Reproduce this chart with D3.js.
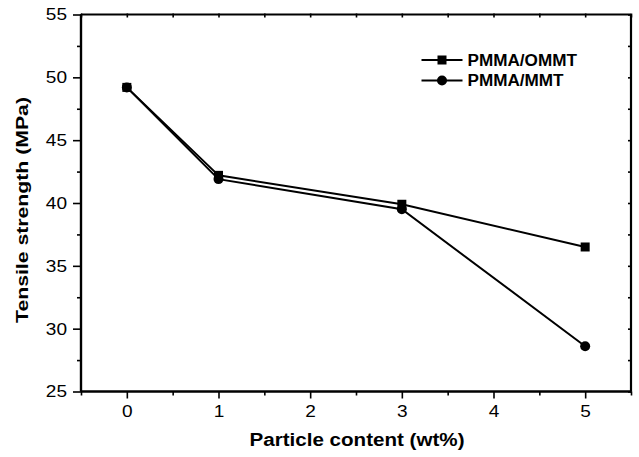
<!DOCTYPE html>
<html><head><meta charset="utf-8">
<script src="https://cdn.jsdelivr.net/npm/d3@7"></script>
<style>body{margin:0;background:#fff}svg{display:block}</style>
</head><body>
<script>
const xValues = [0, 1, 3, 5];
const ommt = [49.2, 42.2, 39.9, 36.5];
const mmt = [49.2, 41.9, 39.5, 28.6];
const seriesNames = ["PMMA/OMMT", "PMMA/MMT"];
const xTicks = [0, 1, 2, 3, 4, 5];
const yTicks = [25, 30, 35, 40, 45, 50, 55];
const xTitle = "Particle content (wt%)";
const yTitle = "Tensile strength (MPa)";

const W = 639, H = 457;
const L = 81, R = 631, T = 14.5, B = 391.5;
const svg = d3.select("body").append("svg").attr("width", W).attr("height", H);
const x = d3.scaleLinear().domain([-0.5, 5.5]).range([L, R]);
const y = d3.scaleLinear().domain([25, 55]).range([B, T]);
const font = "Arial, 'Liberation Sans', sans-serif";

function stretch(sel, k) {
  sel.each(function () {
    const n = this.getComputedTextLength();
    d3.select(this).attr("textLength", n * k).attr("lengthAdjust", "spacingAndGlyphs");
  });
}

const xMinor = d3.range(-0.5, 5.51, 0.5).filter(v => !xTicks.includes(v));
const yMinor = d3.range(27.5, 55, 5);

const gx = svg.append("g").attr("transform", `translate(0,${B})`)
  .call(d3.axisBottom(x).tickValues(xTicks).tickSize(7).tickPadding(6.5).tickFormat(d3.format("d")));
const gxm = svg.append("g").attr("transform", `translate(0,${B})`)
  .call(d3.axisBottom(x).tickValues(xMinor).tickSize(4).tickFormat(""));
const gy = svg.append("g").attr("transform", `translate(${L},0)`)
  .call(d3.axisLeft(y).tickValues(yTicks).tickSize(8).tickPadding(6).tickFormat(d3.format("d")));
const gym = svg.append("g").attr("transform", `translate(${L},0)`)
  .call(d3.axisLeft(y).tickValues(yMinor).tickSize(4).tickFormat(""));
const gt = svg.append("g").attr("transform", `translate(0,${T})`)
  .call(d3.axisBottom(x).tickValues(xTicks.concat(xMinor)).tickSize(3).tickFormat(""));
const gr = svg.append("g").attr("transform", `translate(${R},0)`)
  .call(d3.axisRight(y).tickValues(yTicks.concat(yMinor)).tickSize(3).tickFormat(""));
gt.selectAll(".tick line").attr("y1", -1).attr("y2", 3);
gr.selectAll(".tick line").attr("x1", -3).attr("x2", 1);

[gx, gxm, gy, gym, gt, gr].forEach(g => {
  g.select(".domain").attr("stroke", "#000").attr("stroke-width", 2.2);
  g.selectAll(".tick line").attr("stroke", "#000").attr("stroke-width", 1.6);
  g.selectAll("text").attr("font-family", font).attr("font-size", 17).attr("fill", "#000");
});
[gx, gxm, gt].forEach(g => g.select(".domain").attr("d", `M${L},0H${R}`));
[gy, gym, gr].forEach(g => g.select(".domain").attr("d", `M0,${B}V${T}`));
stretch(gx.selectAll("text"), 1.12);
stretch(gy.selectAll("text"), 1.12);

// axis titles
const xt = svg.append("text").attr("x", 357).attr("y", 446).attr("text-anchor", "middle")
  .attr("font-family", font).attr("font-weight", "bold").attr("font-size", 18).text(xTitle)
  .attr("textLength", 215).attr("lengthAdjust", "spacingAndGlyphs");
svg.append("text").attr("transform", `translate(28,210) rotate(-90)`)
  .attr("text-anchor", "middle").attr("font-family", font).attr("font-weight", "bold")
  .attr("font-size", 17).text(yTitle)
  .attr("textLength", 226).attr("lengthAdjust", "spacingAndGlyphs");

// lines
const line = d3.line().x((d, i) => x(xValues[i])).y(d => y(d));
[ommt, mmt].forEach(s => {
  svg.append("path").attr("d", line(s)).attr("fill", "none").attr("stroke", "#000").attr("stroke-width", 2);
});
svg.append("g").selectAll("rect").data(ommt).join("rect")
  .attr("x", (d, i) => x(xValues[i]) - 4.5).attr("y", d => y(d) - 4.5)
  .attr("width", 9).attr("height", 9).attr("fill", "#000");
svg.append("g").selectAll("circle").data(mmt).join("circle")
  .attr("cx", (d, i) => x(xValues[i])).attr("cy", d => y(d)).attr("r", 5).attr("fill", "#000");

// legend
const leg = svg.append("g");
[0, 1].forEach(i => {
  const yy = 60 + i * 20.5;
  leg.append("line").attr("x1", 421.5).attr("x2", 462.5).attr("y1", yy).attr("y2", yy)
    .attr("stroke", "#000").attr("stroke-width", 2);
  if (i === 0) leg.append("rect").attr("x", 442 - 4.5).attr("y", yy - 4.5).attr("width", 9).attr("height", 9);
  else leg.append("circle").attr("cx", 442).attr("cy", yy).attr("r", 5);
  const t = leg.append("text").attr("x", 467.5).attr("y", yy).attr("dy", "0.36em")
    .attr("font-family", font).attr("font-weight", "bold").attr("font-size", 16).text(seriesNames[i]);
  stretch(t, 1.07);
});
</script>
</body></html>
